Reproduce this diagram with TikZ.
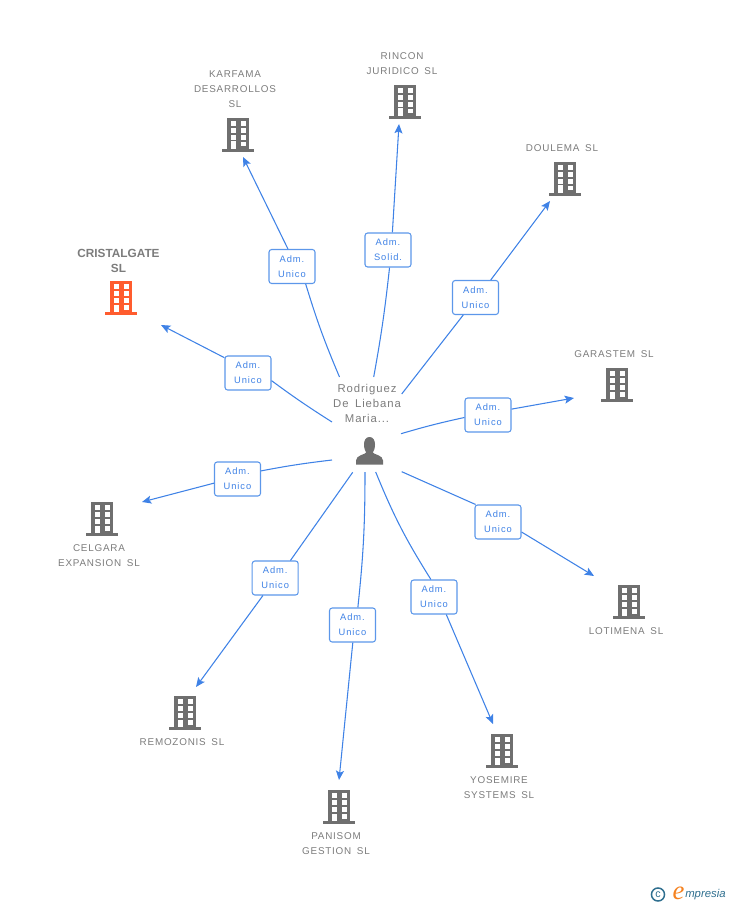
\documentclass[tikz,border=0pt]{standalone}
\usepackage{fontspec}
\setmainfont{Liberation Sans}
\newfontfamily\lblfont[LetterSpace=8,WordSpace=1.6]{Liberation Sans}
\newfontfamily\rolefont[LetterSpace=10,WordSpace=1.6]{Liberation Sans}
\newfontfamily\logofont{Liberation Serif}
\usetikzlibrary{arrows.meta}
\definecolor{linkblue}{HTML}{3F82E6}
\definecolor{boxblue}{HTML}{5C97EA}
\definecolor{txtgray}{HTML}{7C7C7C}
\definecolor{icongray}{HTML}{6F6F6F}
\definecolor{hot}{HTML}{FF5C2E}
\definecolor{logoteal}{HTML}{2F6F8F}
\definecolor{logoorange}{HTML}{F58220}
\tikzset{
  x=0.75pt,y=-0.75pt,
  lbl/.style={font=\lblfont\fontsize{7.4}{11.25}\selectfont,text=txtgray,align=center,inner sep=0pt},
  hotlbl/.style={font=\bfseries\fontsize{8.85}{11.25}\selectfont,text=txtgray,align=center,inner sep=0pt},
  role/.style={draw=boxblue,line width=0.8pt,fill=white,rounded corners=2pt,minimum width=34.5pt,minimum height=25.5pt,inner sep=0pt,
    font=\rolefont\fontsize{7}{11.25}\selectfont,text=linkblue,align=center,execute at begin node={\rule{0pt}{6.7pt}}},
  link/.style={draw=linkblue,line width=0.8pt},
  tip/.style={link,-{Stealth[length=7pt,width=6pt,inset=1.5pt]}},
  bld/.pic={
    \fill[pic actions] (-16,-3) rectangle (16,0);
    \fill[pic actions] (-11,-34) rectangle (11,-3);
    \foreach \yy in {-31,-24,-17}{
      \fill[white] (-7.5,\yy) rectangle (-2.5,\yy+5);
      \fill[white] (2.5,\yy) rectangle (7.5,\yy+5);
    }
    \fill[white] (-7.5,-10.5) rectangle (-2.5,-3);
    \fill[white] (2.5,-10) rectangle (7.5,-5.5);
  }
}
\begin{document}
\begin{tikzpicture}
\useasboundingbox (0,0) rectangle (728,905);
% buildings
\pic[fill=hot] at (121,315) {bld};
\pic[fill=icongray] at (238,152) {bld};
\pic[fill=icongray] at (405,119) {bld};
\pic[fill=icongray] at (565,196) {bld};
\pic[fill=icongray] at (617,402) {bld};
\pic[fill=icongray] at (102,536) {bld};
\pic[fill=icongray] at (629,619) {bld};
\pic[fill=icongray] at (185,730) {bld};
\pic[fill=icongray] at (502,768) {bld};
\pic[fill=icongray] at (339,824) {bld};
% labels
\node[hotlbl] (n0) at (118.5,260.5) {CRISTALGATE\\SL};
\node[lbl] (n1) at (235,89) {KARFAMA\\DESARROLLOS\\SL};
\node[lbl] (n2) at (402,63.5) {RINCON\\JURIDICO SL};
\node[lbl] (n3) at (562,148) {DOULEMA SL};
\node[lbl] (n4) at (614,354) {GARASTEM SL};
\node[lbl] (n5) at (99,555.5) {CELGARA\\EXPANSION SL};
\node[lbl] (n6) at (626,631) {LOTIMENA SL};
\node[lbl] (n7) at (182,742) {REMOZONIS SL};
\node[lbl] (n8) at (499,787.5) {YOSEMIRE\\SYSTEMS SL};
\node[lbl] (n9) at (336,843.5) {PANISOM\\GESTION SL};
\node[lbl,font=\lblfont\fontsize{8.5}{11.25}\selectfont] (p) at (367,403) {Rodriguez\\De Liebana\\Maria...};
% person
\fill[icongray] (369.5,437) .. controls (373,437) and (375,440) .. (375,444.5)
  .. controls (375,448.5) and (373.8,451) .. (372.8,452.5)
  .. controls (373.5,454.5) and (383,455) .. (383,460.5) -- (383,464.5) -- (356,464.5) -- (356,460.5)
  .. controls (356,455) and (365.5,454.5) .. (366.2,452.5)
  .. controls (365.2,451) and (364,448.5) .. (364,444.5)
  .. controls (364,440) and (366,437) .. (369.5,437) -- cycle;
% free ends
\foreach \nm/\px/\py in {s0/332/422,s1/339.5/377,s2/373.7/377,s3/401.7/394,s4/401/433.7,s5/401.7/471.7,s6/375.7/472,s7/365/472,s8/352.7/472.3,s9/332/460,
  e0/161/325,e1/243/157,e2/399/124,e3/550/201,e4/574/398,e5/594/576,e6/493/724,e7/339/780,e8/196/687,e9/142/502}
  {\coordinate (\nm) at (\px,\py);}
% role boxes
\node[role] (b0) at (248,373) {Adm.\\Unico};
\node[role] (b1) at (292,266.5) {Adm.\\Unico};
\node[role] (b2) at (388,250) {Adm.\\Solid.};
\node[role] (b3) at (475.5,297.5) {Adm.\\Unico};
\node[role] (b4) at (488,415) {Adm.\\Unico};
\node[role] (b5) at (498,522) {Adm.\\Unico};
\node[role] (b6) at (434,597) {Adm.\\Unico};
\node[role] (b7) at (352.5,625) {Adm.\\Unico};
\node[role] (b8) at (275.2,578) {Adm.\\Unico};
\node[role] (b9) at (237.5,479) {Adm.\\Unico};
% connectors
\draw[link] (s0) to[bend left=2] (b0.-18.5);
\draw[link] (s1) to[bend left=3] (b1.-52);
\draw[link] (s2) to[bend right=2] (b2.-85.6);
\draw[link] (s3) to (b3.-125);
\draw[link] (s4) to[bend left=2] (b4.186);
\draw[link] (s5) to (b5.142);
\draw[link] (s6) to[bend right=5] (b6.100);
\draw[link] (s7) to[bend left=3] (b7.73);
\draw[link] (s8) to (b8.49);
\draw[link] (s9) to[bend right=2] (b9.19);
\draw[tip] (b0.147) -- (e0);
\draw[tip] (b1.103) -- (e1);
\draw[tip] (b2.76.8) -- (e2);
\draw[tip] (b3.49.5) -- (e3);
\draw[tip] (b4.14.6) -- (e4);
\draw[tip] (b5.-23.5) -- (e5);
\draw[tip] (b6.-55.5) -- (e6);
\draw[tip] (b7.-89) -- (e7);
\draw[tip] (b8.-125) -- (e8);
\draw[tip] (b9.190) -- (e9);
% logo
\node[circle,draw=logoteal,line width=1.1pt,inner sep=0pt,minimum size=9.8pt,font=\fontsize{8}{8}\selectfont,text=logoteal] (c) at (658,894.5) {c};
\node[inner sep=0pt,font=\logofont\itshape\fontsize{20}{20}\selectfont,text=logoorange] (l1) at (678.5,893) {e};
\node[inner sep=0pt,anchor=west,font=\itshape\fontsize{8.5}{10}\selectfont,text=logoteal] (l2) at (685,894.5) {mpresia};
\end{tikzpicture}
\end{document}
